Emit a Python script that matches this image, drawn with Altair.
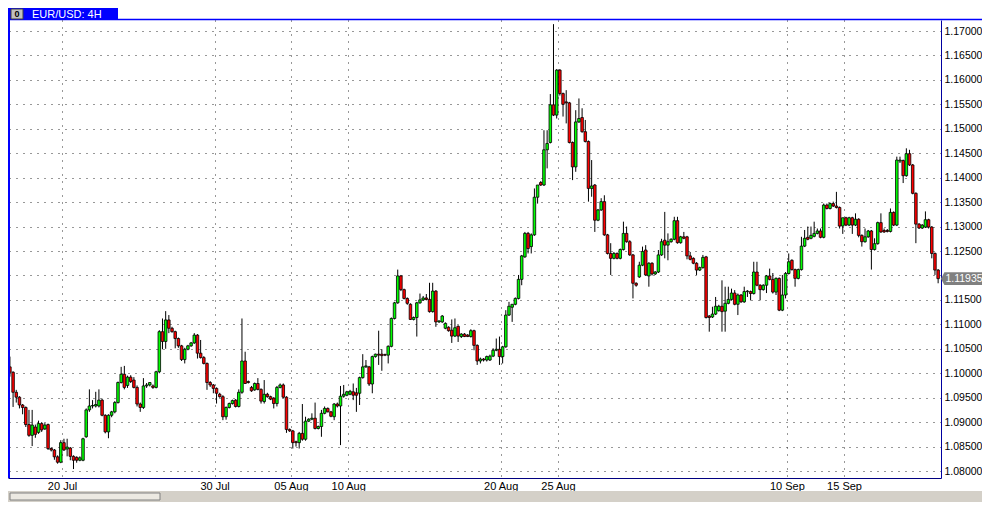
import altair as alt
import pandas as pd

# ---- data (EUR/USD 4H candles) ----
open_ = [
1.1013,1.1002,1.0961,1.0951,1.0935,1.0930,1.0895,1.0873,1.0890,1.0879,1.0897,1.0886,1.0895,1.0846,1.0843,1.0829,1.0818,1.0858,1.0845,1.0847,1.0830,1.0828,1.0822,1.0822,
1.0870,1.0925,1.0933,1.0933,1.0933,1.0945,1.0914,1.0880,1.0914,1.0921,1.0940,1.0981,1.0998,1.0975,1.0992,1.0986,1.0971,1.0937,1.0930,1.0974,1.0976,1.0974,1.0971,1.1003,1.1085,1.1065,
1.1109,1.1092,1.1085,1.1071,1.1056,1.1028,1.1049,1.1056,1.1062,1.1078,1.1041,1.1032,1.1020,1.0981,1.0976,1.0969,1.0957,1.0952,1.0911,1.0930,1.0938,1.0945,1.0932,1.0961,1.1025,
1.0983,1.0971,1.0966,1.0979,1.0967,1.0942,1.0957,1.0952,1.0949,1.0938,1.0971,1.0976,1.0951,1.0885,1.0882,1.0860,1.0858,1.0877,1.0865,1.0902,1.0906,1.0908,1.0887,1.0891,1.0918,1.0928,
1.0921,1.0911,1.0937,1.0933,1.0953,1.0955,1.0957,1.0962,1.0960,1.0959,1.0991,1.1013,1.1013,1.0978,1.1034,1.1039,1.1039,1.1038,1.1037,1.1055,1.1112,1.1144,1.1199,1.1171,1.1153,
1.1141,1.1110,1.1114,1.1144,1.1150,1.1154,1.1151,1.1126,1.1168,1.1105,1.1105,1.1092,1.1094,1.1088,1.1076,1.1096,1.1075,1.1080,1.1078,1.1075,1.1087,1.1057,1.1025,1.1029,1.1027,
1.1027,1.1035,1.1047,1.1049,1.1034,1.1054,1.1119,1.1135,1.1141,1.1153,1.1192,1.1238,1.1286,1.1259,1.1283,1.1360,1.1390,1.1385,1.1457,1.1472,1.1549,1.1528,1.1620,1.1572,
1.1555,1.1553,1.1472,1.1422,1.1514,1.1523,1.1494,1.1474,1.1378,1.1385,1.1313,1.1334,1.1351,1.1283,1.1245,1.1235,1.1245,1.1235,1.1253,1.1286,1.1269,1.1242,1.1184,1.1197,1.1221,1.1252,
1.1199,1.1225,1.1203,1.1207,1.1242,1.1272,1.1262,1.1269,1.1274,1.1312,1.1267,1.1279,1.1279,1.1240,1.1235,1.1225,1.1211,1.1216,1.1238,1.1117,1.1115,1.1121,1.1128,1.1137,
1.1127,1.1143,1.1151,1.1164,1.1141,1.1160,1.1146,1.1167,1.1167,1.1163,1.1207,1.1180,1.1171,1.1180,1.1199,1.1192,1.1166,1.1194,1.1129,1.1160,1.1204,1.1231,1.1212,1.1194,1.1212,1.1260,
1.1278,1.1276,1.1280,1.1286,1.1291,1.1278,1.1344,1.1337,1.1347,1.1342,1.1339,1.1301,1.1318,1.1303,1.1318,1.1303,1.1315,1.1282,1.1269,1.1279,1.1291,1.1253,1.1265,1.1308,1.1292,
1.1292,1.1290,1.1329,1.1303,1.1434,1.1435,1.1404,1.1449,1.1426,1.1368,1.1305,1.1297,1.1299,1.1314,1.1299,1.1245,1.1211,
]
high = [
1.1034,1.1004,1.0966,1.0953,1.0937,1.0932,1.0925,1.0925,1.0895,1.0903,1.0900,1.0898,1.0897,1.0848,1.0845,1.0832,1.0863,1.0866,1.0866,1.0849,1.0832,1.0830,1.0830,1.0868,
1.0928,1.0967,1.0945,1.0962,1.0967,1.0948,1.0916,1.0916,1.0923,1.0943,1.0983,1.1013,1.1015,1.0995,1.0996,1.0992,1.0975,1.0940,1.0990,1.0980,1.0982,1.0977,1.1005,1.1088,1.1112,1.1127,
1.1119,1.1095,1.1087,1.1073,1.1058,1.1052,1.1058,1.1064,1.1082,1.1080,1.1068,1.1035,1.1022,1.0984,1.0978,1.0971,1.0960,1.0955,1.0932,1.0940,1.0946,1.0947,1.0967,1.1112,1.1044,
1.0985,1.0974,1.0981,1.0990,1.0969,1.0986,1.0960,1.0954,1.0951,1.0974,1.0979,1.0979,1.0953,1.0887,1.0884,1.0862,1.0880,1.0937,1.0911,1.0908,1.0918,1.0940,1.0893,1.0925,1.0932,1.0930,
1.0923,1.0939,1.0940,1.0974,1.0976,1.0964,1.0966,1.0979,1.0970,1.0993,1.1039,1.1027,1.1015,1.1036,1.1040,1.1087,1.1049,1.1040,1.1057,1.1114,1.1146,1.1212,1.1201,1.1173,1.1155,
1.1143,1.1116,1.1146,1.1163,1.1158,1.1162,1.1185,1.1185,1.1170,1.1108,1.1119,1.1104,1.1096,1.1110,1.1112,1.1098,1.1082,1.1082,1.1080,1.1090,1.1089,1.1059,1.1032,1.1031,1.1036,
1.1038,1.1051,1.1071,1.1075,1.1056,1.1129,1.1146,1.1140,1.1155,1.1201,1.1242,1.1289,1.1289,1.1286,1.1378,1.1385,1.1393,1.1497,1.1497,1.1571,1.1714,1.1622,1.1622,1.1574,
1.1579,1.1555,1.1474,1.1538,1.1562,1.1542,1.1518,1.1476,1.1436,1.1387,1.1336,1.1358,1.1364,1.1285,1.1266,1.1248,1.1247,1.1255,1.1310,1.1300,1.1272,1.1244,1.1186,1.1228,1.1259,1.1262,
1.1227,1.1227,1.1209,1.1252,1.1275,1.1330,1.1286,1.1276,1.1320,1.1320,1.1281,1.1289,1.1281,1.1248,1.1237,1.1227,1.1218,1.1242,1.1240,1.1119,1.1136,1.1156,1.1140,1.1190,
1.1177,1.1177,1.1173,1.1170,1.1163,1.1162,1.1177,1.1170,1.1169,1.1228,1.1228,1.1182,1.1182,1.1201,1.1214,1.1205,1.1196,1.1196,1.1201,1.1207,1.1245,1.1233,1.1214,1.1214,1.1279,1.1293,
1.1300,1.1300,1.1310,1.1296,1.1296,1.1347,1.1347,1.1349,1.1351,1.1371,1.1341,1.1318,1.1320,1.1320,1.1320,1.1327,1.1317,1.1284,1.1296,1.1293,1.1293,1.1276,1.1310,1.1327,1.1296,
1.1295,1.1337,1.1331,1.1443,1.1443,1.1437,1.1460,1.1457,1.1428,1.1370,1.1307,1.1305,1.1331,1.1316,1.1301,1.1247,1.1213,
]
low = [
1.0993,1.0931,1.0940,1.0928,1.0916,1.0890,1.0870,1.0851,1.0868,1.0876,1.0880,1.0884,1.0843,1.0840,1.0823,1.0815,1.0816,1.0841,1.0830,1.0822,1.0804,1.0817,1.0820,1.0820,
1.0868,1.0921,1.0928,1.0930,1.0930,1.0912,1.0877,1.0867,1.0910,1.0918,1.0938,1.0979,1.0967,1.0970,1.0980,1.0969,1.0932,1.0921,1.0927,1.0970,1.0973,1.0968,1.0969,1.1000,1.1049,1.1050,
1.1082,1.1083,1.1051,1.1052,1.1025,1.1020,1.1047,1.1054,1.1060,1.1030,1.1030,1.1018,1.0966,1.0972,1.0959,1.0938,1.0950,1.0904,1.0905,1.0928,1.0936,1.0930,1.0930,1.0958,1.0978,
1.0979,1.0962,1.0964,1.0965,1.0938,1.0938,1.0950,1.0945,1.0928,1.0932,1.0969,1.0949,1.0878,1.0880,1.0846,1.0850,1.0846,1.0862,1.0862,1.0900,1.0904,1.0885,1.0885,1.0870,1.0916,1.0920,
1.0910,1.0904,1.0930,1.0853,1.0950,1.0953,1.0955,1.0945,1.0921,1.0935,1.0989,1.1011,1.0974,1.0959,1.1032,1.1017,1.1005,1.1035,1.1020,1.1053,1.1110,1.1142,1.1168,1.1151,1.1140,
1.1109,1.1108,1.1075,1.1142,1.1148,1.1149,1.1124,1.1124,1.1095,1.1103,1.1103,1.1090,1.1085,1.1062,1.1074,1.1064,1.1072,1.1074,1.1074,1.1073,1.1047,1.1017,1.1020,1.1024,1.1024,
1.1025,1.1033,1.1045,1.1017,1.1020,1.1052,1.1117,1.1105,1.1139,1.1151,1.1180,1.1236,1.1245,1.1245,1.1281,1.1347,1.1383,1.1383,1.1419,1.1470,1.1526,1.1521,1.1568,1.1525,
1.1511,1.1470,1.1395,1.1412,1.1512,1.1492,1.1472,1.1351,1.1361,1.1289,1.1311,1.1332,1.1281,1.1243,1.1201,1.1233,1.1233,1.1233,1.1251,1.1267,1.1240,1.1153,1.1177,1.1195,1.1219,1.1199,
1.1177,1.1200,1.1201,1.1205,1.1240,1.1235,1.1231,1.1267,1.1272,1.1265,1.1265,1.1274,1.1233,1.1231,1.1223,1.1201,1.1209,1.1214,1.1112,1.1085,1.1113,1.1119,1.1126,1.1085,
1.1085,1.1141,1.1149,1.1139,1.1119,1.1144,1.1144,1.1156,1.1149,1.1161,1.1178,1.1149,1.1169,1.1164,1.1190,1.1163,1.1160,1.1127,1.1127,1.1153,1.1202,1.1210,1.1177,1.1192,1.1210,1.1258,
1.1272,1.1274,1.1278,1.1284,1.1276,1.1276,1.1335,1.1335,1.1340,1.1337,1.1296,1.1285,1.1301,1.1301,1.1285,1.1301,1.1278,1.1259,1.1267,1.1277,1.1212,1.1251,1.1263,1.1287,1.1287,
1.1288,1.1288,1.1301,1.1301,1.1430,1.1389,1.1402,1.1424,1.1366,1.1266,1.1295,1.1295,1.1297,1.1296,1.1235,1.1201,1.1184,
]
close = [
1.1002,1.0961,1.0951,1.0935,1.0930,1.0895,1.0873,1.0894,1.0875,1.0897,1.0884,1.0894,1.0846,1.0843,1.0829,1.0818,1.0858,1.0843,1.0849,1.0830,1.0822,1.0822,1.0827,1.0866,
1.0925,1.0933,1.0934,1.0936,1.0945,1.0914,1.0880,1.0914,1.0921,1.0940,1.0981,1.0998,1.0971,1.0992,1.0983,1.0971,1.0937,1.0930,1.0974,1.0976,1.0981,1.0971,1.1003,1.1085,1.1065,1.1109,
1.1092,1.1085,1.1071,1.1056,1.1028,1.1049,1.1056,1.1062,1.1078,1.1041,1.1032,1.1020,1.0981,1.0976,1.0969,1.0959,1.0952,1.0911,1.0930,1.0938,1.0944,1.0932,1.0961,1.1025,1.0979,
1.0981,1.0964,1.0979,1.0967,1.0943,1.0957,1.0952,1.0947,1.0938,1.0971,1.0976,1.0951,1.0885,1.0882,1.0858,1.0858,1.0877,1.0865,1.0902,1.0906,1.0908,1.0887,1.0891,1.0918,1.0928,1.0921,
1.0912,1.0937,1.0933,1.0953,1.0957,1.0962,1.0963,1.0955,1.0955,1.0991,1.1013,1.1015,1.0978,1.1034,1.1039,1.1037,1.1036,1.1037,1.1055,1.1112,1.1144,1.1199,1.1171,1.1153,1.1143,
1.1110,1.1114,1.1144,1.1150,1.1154,1.1151,1.1126,1.1168,1.1105,1.1107,1.1117,1.1102,1.1087,1.1076,1.1093,1.1076,1.1080,1.1075,1.1075,1.1087,1.1057,1.1025,1.1029,1.1027,1.1034,
1.1035,1.1047,1.1049,1.1034,1.1054,1.1119,1.1137,1.1141,1.1153,1.1192,1.1240,1.1286,1.1255,1.1283,1.1360,1.1385,1.1385,1.1457,1.1470,1.1549,1.1528,1.1620,1.1572,1.1550,
1.1553,1.1472,1.1422,1.1514,1.1521,1.1494,1.1474,1.1378,1.1383,1.1313,1.1334,1.1351,1.1283,1.1245,1.1235,1.1245,1.1235,1.1253,1.1286,1.1269,1.1242,1.1184,1.1180,1.1221,1.1249,1.1201,
1.1225,1.1203,1.1207,1.1242,1.1269,1.1262,1.1269,1.1274,1.1312,1.1267,1.1279,1.1276,1.1240,1.1233,1.1225,1.1211,1.1216,1.1237,1.1114,1.1114,1.1121,1.1137,1.1137,1.1126,
1.1143,1.1151,1.1164,1.1141,1.1160,1.1146,1.1167,1.1168,1.1163,1.1207,1.1180,1.1171,1.1180,1.1199,1.1192,1.1166,1.1194,1.1129,1.1160,1.1204,1.1228,1.1212,1.1194,1.1212,1.1260,1.1276,
1.1274,1.1282,1.1286,1.1291,1.1278,1.1344,1.1337,1.1347,1.1342,1.1339,1.1301,1.1318,1.1303,1.1318,1.1303,1.1315,1.1282,1.1269,1.1279,1.1291,1.1253,1.1265,1.1308,1.1289,1.1289,
1.1290,1.1329,1.1303,1.1436,1.1436,1.1404,1.1449,1.1426,1.1368,1.1305,1.1297,1.1303,1.1314,1.1299,1.1245,1.1211,1.11935,
]

date_ticks = [16.4, 64.4, 88.4, 106.4, 154.4, 172.4, 244.4, 262.4]
date_labels = ["20 Jul", "30 Jul", "05 Aug", "10 Aug", "20 Aug", "25 Aug", "10 Sep", "15 Sep"]
price_ticks = [1.080, 1.085, 1.090, 1.095, 1.100, 1.105, 1.110, 1.115, 1.120, 1.125,
               1.130, 1.135, 1.140, 1.145, 1.150, 1.155, 1.160, 1.165, 1.170]
chart_title = "EUR/USD: 4H"

# ---- table ----
n = len(close)
df = pd.DataFrame({"idx": list(range(n)), "o": open_, "h": high, "l": low, "c": close})
df["h"] = df[["h", "o", "c"]].max(axis=1)
df["l"] = df[["l", "o", "c"]].min(axis=1)
df["lo"] = df[["o", "c"]].min(axis=1)
df["hi"] = df[["o", "c"]].max(axis=1)
df["dir"] = ["up" if c >= o else "down" for o, c in zip(df["o"], df["c"])]
df["xl"] = df["idx"] - 0.4
df["xr"] = df["idx"] + 0.4

# total drawing kept within 974 x 494 so the 990 x 510 page does not overflow
W, H = 933, 458
PAD = {"left": 0, "top": 12, "right": 41, "bottom": 24}
FONT = "Liberation Sans"
BLUE = "#0000ff"
xscale = alt.Scale(domain=[-0.6, 292.9], nice=False, zero=False)
yscale = alt.Scale(domain=[1.07857, 1.17225], nice=False, zero=False)

lab_arr = "[" + ",".join("'%s'" % s for s in date_labels) + "]"
val_arr = "[" + ",".join(str(v) for v in date_ticks) + "]"
label_expr = f"{lab_arr}[indexof({val_arr}, datum.value)]"
# the last-price box covers the axis label it sits on
y_label_expr = f"abs(datum.value - {close[-1]}) < 0.002 ? '' : format(datum.value, '.5f')"

x_axis = alt.Axis(values=date_ticks, labelExpr=label_expr, grid=True, gridDash=[1, 6],
                  gridColor="#303030", gridWidth=1, ticks=False, domain=True,
                  domainColor="#000080", domainWidth=1, labelFont=FONT, labelFontSize=11,
                  labelColor="black", labelPadding=2, labelAlign="center",
                  labelFlush=False, labelOverlap=False, title="")
y_axis = alt.Axis(orient="right", values=price_ticks, labelExpr=y_label_expr, grid=True,
                  gridDash=[1, 6], gridColor="#303030", gridWidth=1, ticks=False, domain=True,
                  domainColor="#0000a0", domainWidth=1, labelFont=FONT, labelFontSize=10.5,
                  labelColor="black", labelPadding=3, labelOverlap=False, labelFlush=False,
                  title="")

base = alt.Chart(df)

wicks = base.mark_rule(color="black", strokeWidth=1).encode(
    x=alt.X("idx:Q", scale=xscale, axis=x_axis),
    y=alt.Y("l:Q", scale=yscale, axis=y_axis),
    y2="h:Q",
)

bodies = base.mark_rect(stroke="black", strokeWidth=0.8).encode(
    x=alt.X("xl:Q", scale=xscale, axis=x_axis),
    x2="xr:Q",
    y=alt.Y("lo:Q", scale=yscale, axis=y_axis),
    y2="hi:Q",
    color=alt.Color("dir:N", scale=alt.Scale(domain=["up", "down"], range=["#00ff00", "#ff0000"]),
                    legend=None),
)

one = pd.DataFrame({"c": [close[-1]], "t": ["%.5f" % close[-1]], "title": [chart_title],
                    "icon": ["0"]})
deco = alt.Chart(one)

price_box = deco.mark_point(
    shape="M -1 0 L -0.84 -0.3 L 1 -0.3 L 1 0.3 L -0.84 0.3 Z",
    filled=True, color="#808080", opacity=1, size=1764,
).encode(x=alt.value(954), y=alt.Y("c:Q", scale=yscale, axis=y_axis))

price_txt = deco.mark_text(font=FONT, fontSize=10.5, color="white", align="center",
                           baseline="middle").encode(
    x=alt.value(956), y=alt.Y("c:Q", scale=yscale, axis=y_axis), text="t:N")

left_border = deco.mark_rule(color=BLUE, strokeWidth=2).encode(
    x=alt.value(1), y=alt.value(-12), y2=alt.value(H))
top_border = deco.mark_rule(color=BLUE, strokeWidth=1.5).encode(
    x=alt.value(0), x2=alt.value(974), y=alt.value(-0.5))

tab_bg = deco.mark_rect(color=BLUE).encode(
    x=alt.value(0), x2=alt.value(110), y=alt.value(-12), y2=alt.value(0))
tab_icon = deco.mark_rect(color="#c0c0c0", stroke="#404040", strokeWidth=1).encode(
    x=alt.value(3), x2=alt.value(15), y=alt.value(-11), y2=alt.value(-1))
tab_icon_txt = deco.mark_text(font=FONT, fontSize=9, fontWeight="bold", color="black",
                              align="center", baseline="middle").encode(
    x=alt.value(9), y=alt.value(-6), text="icon:N")
tab_txt = deco.mark_text(font=FONT, fontSize=11, color="white", align="left",
                         baseline="middle").encode(
    x=alt.value(24), y=alt.value(-5.5), text="title:N")

scroll_bg = deco.mark_rect(color="#d4d0c8").encode(
    x=alt.value(0), x2=alt.value(974), y=alt.value(13 + H), y2=alt.value(24 + H))
scroll_thumb = deco.mark_rect(color="#ece9e2", stroke="#808080", strokeWidth=1).encode(
    x=alt.value(2), x2=alt.value(152), y=alt.value(15 + H), y2=alt.value(22 + H))

chart = alt.layer(
    wicks, bodies, price_box, price_txt, left_border, top_border, scroll_bg, scroll_thumb,
    tab_bg, tab_icon, tab_icon_txt, tab_txt,
).properties(
    width=W, height=H,
    autosize=alt.AutoSizeParams(type="none"),
    padding=PAD,
    background="white",
).configure_view(strokeWidth=0)

chart.save("out.html", embed_options={"renderer": "svg", "actions": False})
